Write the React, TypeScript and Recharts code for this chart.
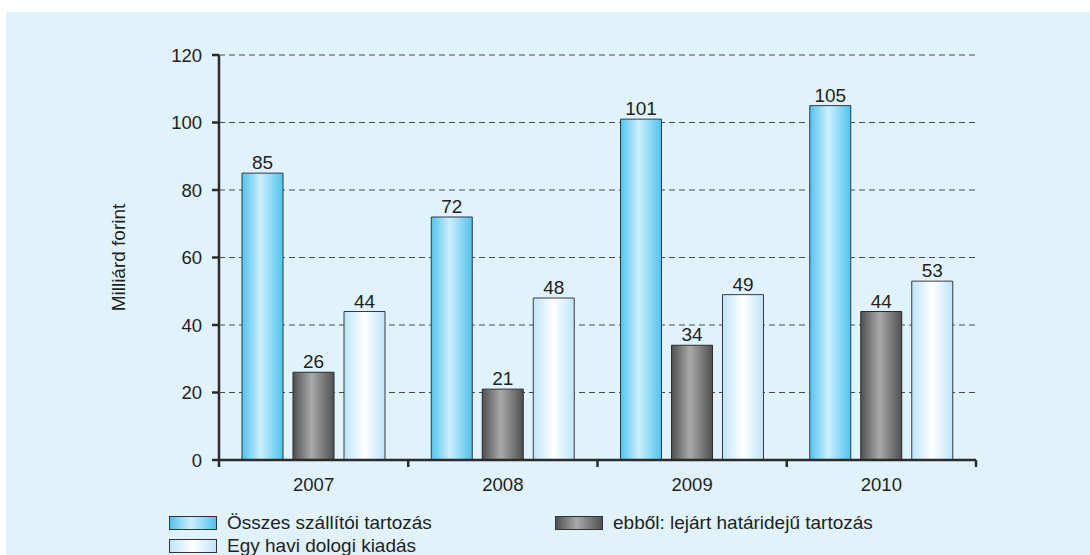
import { BarChart, Bar, XAxis, YAxis, CartesianGrid, LabelList } from "recharts";

const years = ["2007", "2008", "2009", "2010"];
const osszes = [85, 72, 101, 105];
const lejart = [26, 21, 34, 44];
const egyHavi = [44, 48, 49, 53];
const yTicks = [0, 20, 40, 60, 80, 100, 120];

const data = years.map((year, i) => ({
  year,
  osszes: osszes[i],
  lejart: lejart[i],
  egyHavi: egyHavi[i],
}));

const font = "'Liberation Sans', Arial, Helvetica, sans-serif";
const ink = "#231f20";
const axisColor = "#2b2b2b";

const blueGrad = "linear-gradient(90deg, #4fc4ee 0%, #cdeefc 45%, #4fc4ee 100%)";
const greyGrad = "linear-gradient(90deg, #505050 0%, #a9a9a9 45%, #505050 100%)";
const paleGrad = "linear-gradient(90deg, #bde5f8 0%, #ffffff 50%, #bde5f8 100%)";

const YearTick = (props: any) => {
  const { x, y, payload, index, visibleTicksCount } = props;
  const half = payload?.offset || 94.5;
  const axisY = y - 10;
  return (
    <g>
      <line x1={x - half} x2={x - half} y1={axisY} y2={axisY + 7} stroke={axisColor} strokeWidth={2.5} />
      {index === visibleTicksCount - 1 && (
        <line x1={x + half} x2={x + half} y1={axisY} y2={axisY + 7} stroke={axisColor} strokeWidth={2.5} />
      )}
      <text x={x} y={y + 21} textAnchor="middle" fill={ink} fontSize={18.5} fontFamily={font}>
        {payload.value}
      </text>
    </g>
  );
};

const YTitle = (props: any) => {
  const { viewBox } = props;
  const cx = viewBox.x - 41;
  const cy = viewBox.y + viewBox.height / 2;
  return (
    <text
      x={cx}
      y={cy}
      transform={`rotate(-90, ${cx}, ${cy})`}
      textAnchor="middle"
      dominantBaseline="central"
      fill={ink}
      fontSize={19}
      fontFamily={font}
    >
      Milliárd forint
    </text>
  );
};

const Swatch = ({ bg }: { bg: string }) => (
  <div
    style={{
      width: 46,
      height: 12,
      background: bg,
      border: "1px solid #333",
      marginRight: 10,
    }}
  />
);

const legendText = { fontSize: 19, color: ink, fontFamily: font, lineHeight: "23px" };

export default function App() {
  return (
    <div style={{ position: "absolute", left: 0, top: 0, width: 1090, height: 555, background: "#fff" }}>
      <div style={{ position: "absolute", left: 6, top: 12, right: 0, bottom: 0, background: "#e0f2fc" }} />
      <div style={{ position: "absolute", left: 0, top: 0 }}>
        <BarChart
          width={1090}
          height={555}
          data={data}
          margin={{ top: 55, right: 114, bottom: 65, left: 159 }}
          barSize={41}
          barGap={10}
        >
          <defs>
            <linearGradient id="gBlue" x1="0" y1="0" x2="1" y2="0">
              <stop offset="0%" stopColor="#4fc4ee" />
              <stop offset="45%" stopColor="#cdeefc" />
              <stop offset="100%" stopColor="#4fc4ee" />
            </linearGradient>
            <linearGradient id="gGrey" x1="0" y1="0" x2="1" y2="0">
              <stop offset="0%" stopColor="#505050" />
              <stop offset="45%" stopColor="#a9a9a9" />
              <stop offset="100%" stopColor="#505050" />
            </linearGradient>
            <linearGradient id="gPale" x1="0" y1="0" x2="1" y2="0">
              <stop offset="0%" stopColor="#bde5f8" />
              <stop offset="50%" stopColor="#ffffff" />
              <stop offset="100%" stopColor="#bde5f8" />
            </linearGradient>
          </defs>
          <CartesianGrid vertical={false} stroke="#4a4a4a" strokeWidth={1.2} strokeDasharray="6 4" />
          <XAxis
            dataKey="year"
            height={30}
            tickLine={false}
            tickSize={7}
            tickMargin={3}
            axisLine={{ stroke: axisColor, strokeWidth: 2.5 }}
            tick={<YearTick />}
          />
          <YAxis
            width={60}
            domain={[0, 120]}
            ticks={yTicks}
            tickSize={7}
            tickMargin={10}
            axisLine={{ stroke: axisColor, strokeWidth: 2.5 }}
            tickLine={{ stroke: axisColor, strokeWidth: 2.5 }}
            tick={{ fill: ink, fontSize: 18.5, fontFamily: font }}
            label={<YTitle />}
          />
          <YAxis
            yAxisId="right"
            orientation="right"
            width={0}
            domain={[0, 120]}
            tick={false}
            tickLine={false}
            axisLine={{ stroke: axisColor, strokeWidth: 2.5 }}
          />
          <Bar dataKey="osszes" fill="url(#gBlue)" stroke="#2d3a40" strokeWidth={1} isAnimationActive={false}>
            <LabelList dataKey="osszes" position="top" offset={4} fill={ink} fontSize={19} fontFamily={font} />
          </Bar>
          <Bar dataKey="lejart" fill="url(#gGrey)" stroke="#2a2a2a" strokeWidth={1} isAnimationActive={false}>
            <LabelList dataKey="lejart" position="top" offset={4} fill={ink} fontSize={19} fontFamily={font} />
          </Bar>
          <Bar dataKey="egyHavi" fill="url(#gPale)" stroke="#3a3a3a" strokeWidth={1} isAnimationActive={false}>
            <LabelList dataKey="egyHavi" position="top" offset={4} fill={ink} fontSize={19} fontFamily={font} />
          </Bar>
        </BarChart>
      </div>
      <div style={{ position: "absolute", left: 169, top: 511, display: "flex", alignItems: "center" }}>
        <Swatch bg={blueGrad} />
        <span style={legendText}>Összes szállítói tartozás</span>
      </div>
      <div style={{ position: "absolute", left: 169, top: 534, display: "flex", alignItems: "center" }}>
        <Swatch bg={paleGrad} />
        <span style={legendText}>Egy havi dologi kiadás</span>
      </div>
      <div style={{ position: "absolute", left: 555, top: 511, display: "flex", alignItems: "center" }}>
        <Swatch bg={greyGrad} />
        <span style={legendText}>ebből: lejárt határidejű tartozás</span>
      </div>
    </div>
  );
}
